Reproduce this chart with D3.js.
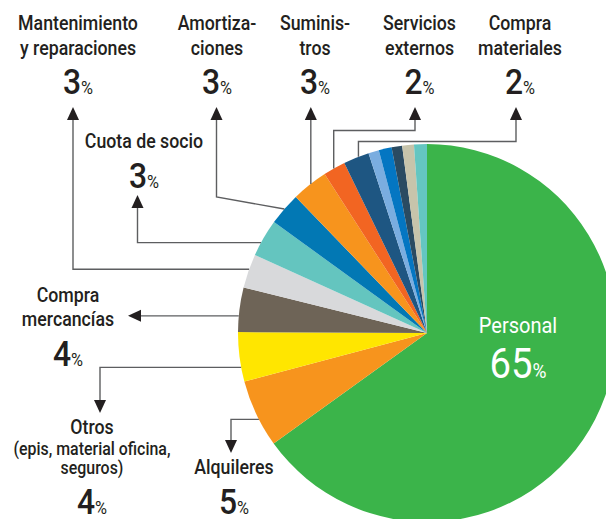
<!DOCTYPE html>
<meta charset="utf-8">
<style>
  body { margin: 0; background: #fff; }
  svg text { font-family: Roboto, "DejaVu Sans Condensed", sans-serif; fill: #231f20; }
</style>
<svg width="606" height="519"></svg>
<script src="https://cdn.jsdelivr.net/npm/d3@7/dist/d3.min.js"></script>
<script>

// slices, clockwise from 12 o'clock
var categories = ["Personal", "Alquileres", "Otros", "Compra mercancías",
    "Mantenimiento y reparaciones", "Cuota de socio", "Amortizaciones", "Suministros",
    "Servicios externos", "Compra materiales", "s1", "s2", "s3", "s4", "s5"];
var shares = [65, 5.8, 4.2, 3.8, 2.9, 3.2, 2.8, 3.1, 1.9, 2.2, 0.9, 1.1, 0.9, 1.0, 1.1];
var shownPct = [65, 5, 4, 4, 3, 3, 3, 3, 2, 2];
var colors = ["#3bb44a", "#f7941d", "#ffe600", "#6e6457", "#d8d9db", "#64c5bf", "#0278b4",
    "#f7941d", "#f26522", "#1e5682", "#7aade0", "#0476c2", "#2a4b62", "#c7c4ab", "#64c6c1"];
var labelLines = [["Personal"], ["Alquileres"], ["Otros", "(epis, material oficina,", "seguros)"],
    ["Compra", "mercancías"], ["Mantenimiento", "y reparaciones"], ["Cuota de socio"],
    ["Amortiza-", "ciones"], ["Suminis-", "tros"], ["Servicios", "externos"], ["Compra", "materiales"]];

var svg = d3.select("svg");
var cx = 427, cy = 333, r = 189;
var squeeze = 0.91; // condensed look

var pie = d3.pie().sort(null).value(function(d) { return d; });
var arcs = pie(shares);
var arc = d3.arc().innerRadius(0).outerRadius(r);

var g = svg.append("g").attr("transform", "translate(" + cx + "," + cy + ")");
g.selectAll("path")
  .data(arcs)
  .enter().append("path")
    .attr("d", arc)
    .attr("fill", function(d, i) { return colors[i]; });

// point on the rim, at fraction t of the slice
function rim(i, t) {
  var a = arcs[i].startAngle + (arcs[i].endAngle - arcs[i].startAngle) * t;
  return [cx + r * Math.sin(a), cy - r * Math.cos(a)];
}

var AL = 13; // arrow length
// label layout: text centre, line baselines, pct baseline, leader
var layout = [
  {x: 518, lines: [333], pctY: 378, white: true},
  {x: 234, lines: [474], pctY: 514, at: 0.41, leader: function(a) { return [a, [231, a[1]], [231, 453 - AL]]; }, tip: [231, 453, "down"]},
  {x: 92, lines: [434, 455, 474], pctY: 514, at: 0.29, leader: function(a) { return [a, [100, a[1]], [100, 413 - AL]]; }, tip: [100, 413, "down"]},
  {x: 68, lines: [302, 326], pctY: 366, at: 0.36, leader: function(a) { return [a, [128 + AL, a[1]]]; }, tip: [128, null, "left"]},
  {x: 78, lines: [30, 55], pctY: 94, at: 0.55, leader: function(a) { return [a, [73, a[1]], [73, 107 + AL]]; }, tip: [73, 107, "up"]},
  {x: 144, lines: [148], pctY: 188, at: 0.36, leader: function(a) { return [a, [137.5, a[1]], [137.5, 195 + AL]]; }, tip: [137.5, 195, "up"]},
  {x: 217, lines: [30, 55], pctY: 94, at: 0.5, leader: function(a) { return [a, [216.5, 197], [216.5, 107 + AL]]; }, tip: [216.5, 107, "up"]},
  {x: 315, lines: [30, 55], pctY: 94, at: 0.54, leader: function(a) { return [a, [a[0], 107 + AL]]; }, tip: [null, 107, "up"]},
  {x: 419.5, lines: [30, 55], pctY: 94, at: 0.47, leader: function(a) { return [a, [a[0], 130.5], [415, 130.5], [415, 107 + AL]]; }, tip: [415, 107, "up"]},
  {x: 520, lines: [30, 55], pctY: 94, at: 0.59, leader: function(a) { return [a, [a[0], 141.5], [516, 141.5], [516, 107 + AL]]; }, tip: [516, 107, "up"]}
];

var line = d3.line();

function label(x, y) {
  return svg.append("text")
    .attr("transform", "translate(" + x + "," + y + ") scale(" + squeeze + ",1)")
    .attr("text-anchor", "middle");
}

layout.forEach(function(L, i) {
  if (L.leader) {
    var a = rim(i, L.at);
    var pts = L.leader(a);
    svg.append("path")
      .attr("d", line(pts))
      .attr("fill", "none")
      .attr("stroke", "#5d5e60")
      .attr("stroke-width", 1.4);
    var last = pts[pts.length - 1];
    var tx = L.tip[0] == null ? last[0] : L.tip[0];
    var ty = L.tip[1] == null ? last[1] : L.tip[1];
    var tri;
    if (L.tip[2] == "up") tri = [[tx, ty], [tx - 6, ty + AL], [tx + 6, ty + AL]];
    else if (L.tip[2] == "down") tri = [[tx, ty], [tx - 6, ty - AL], [tx + 6, ty - AL]];
    else tri = [[tx, ty], [tx + AL, ty - 6], [tx + AL, ty + 6]];
    svg.append("path").attr("d", line(tri) + "Z").attr("fill", "#231f20");
  }

  labelLines[i].forEach(function(s, k) {
    label(L.x, L.lines[k])
      .attr("font-size", L.white ? 22 : (i == 2 && k > 0) ? 17.5 : 19.5)
      .attr("font-weight", L.white ? 400 : 500)
      .style("fill", L.white ? "#fff" : null)
      .text(s);
  });

  var t = label(L.x, L.pctY)
    .attr("font-weight", L.white ? 400 : 500)
    .style("fill", L.white ? "#fff" : null);
  t.append("tspan").attr("font-size", L.white ? 42 : 35).text(shownPct[i]);
  t.append("tspan").attr("font-size", L.white ? 21 : 18).attr("font-weight", 400).text("%");
});

</script>
